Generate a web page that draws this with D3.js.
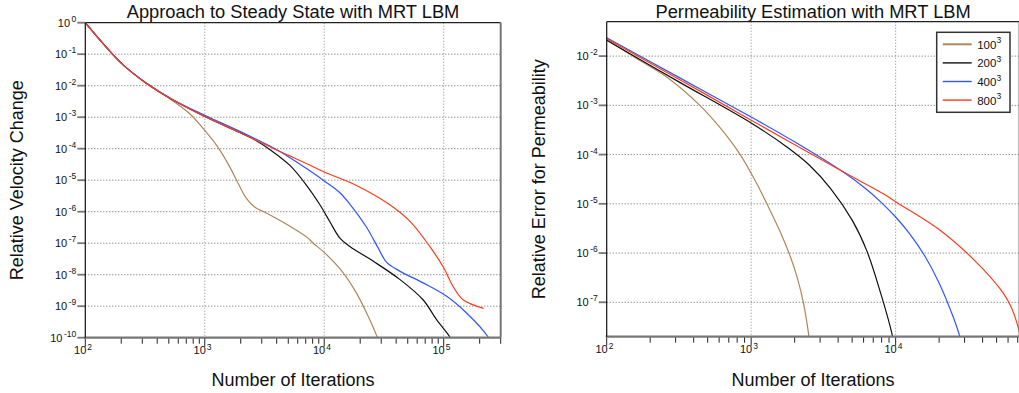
<!DOCTYPE html>
<html>
<head>
<meta charset="utf-8">
<script src="https://cdn.jsdelivr.net/npm/d3@7"></script>
<style>
	body { margin: 0; background: #fff; }
	svg { display: block; font-family: "Liberation Sans", Arial, Helvetica, sans-serif; }
</style>
</head>
<body>
<div id="chart"></div>
<script>
const seriesNames = ['100', '200', '400', '800'];
const seriesColors = ['#b0865a', '#111111', '#2f55ff', '#ff3a1a'];

// relative velocity change, [iterations, value]
const velocity100 = [[100, 1], [201, 5.1e-2], [326, 1.17e-2], [479, 4.5e-3], [748, 1.29e-3], [1000, 3.8e-4], [1288, 1.12e-4], [1622, 2.6e-5], [1905, 7.9e-6], [2239, 2.6e-6], [2630, 1.38e-6], [3311, 8.9e-7], [5130, 3.5e-7], [7080, 1.6e-7], [8090, 1.0e-7], [10000, 5.1e-8], [14420, 1.15e-8], [18620, 2.6e-9], [23330, 4.8e-10], [27730, 1.07e-10], [29500, 6e-11]];
const velocity200 = [[100, 1], [201, 5.1e-2], [326, 1.17e-2], [543, 3.5e-3], [1000, 1.05e-3], [1963, 3.25e-4], [2512, 2.1e-4], [3548, 9.1e-5], [5164, 2.95e-5], [7110, 6.9e-6], [9200, 1.66e-6], [11150, 4.8e-7], [13520, 1.45e-7], [16370, 7.9e-8], [25650, 2.7e-8], [42850, 7.1e-9], [67140, 1.6e-9], [86900, 3.8e-10], [112200, 1.07e-10], [120000, 6e-11]];
const velocity400 = [[100, 1], [201, 5.1e-2], [326, 1.19e-2], [543, 3.6e-3], [1000, 1.15e-3], [1963, 3.55e-4], [3740, 1.07e-4], [5164, 5.2e-5], [7110, 2.34e-5], [10000, 9.5e-6], [13520, 4.0e-6], [16370, 1.74e-6], [22600, 3.2e-7], [28250, 7.1e-8], [33200, 2.5e-8], [42850, 1.3e-8], [67140, 5.5e-9], [105200, 2.1e-9], [154500, 6.2e-10], [234400, 1.07e-10], [250000, 6e-11]];
const velocity800 = [[100, 1], [201, 5.1e-2], [326, 1.17e-2], [543, 3.5e-3], [1000, 1.05e-3], [1963, 3.25e-4], [3740, 1.02e-4], [5160, 5.9e-5], [7080, 3.4e-5], [10000, 1.82e-5], [18620, 6.8e-6], [35400, 1.66e-6], [52000, 5.0e-7], [76400, 7.9e-8], [100000, 1.66e-8], [119700, 4.3e-9], [145200, 1.6e-9], [215800, 8.5e-10]];

// relative error for permeability, [iterations, value]
const permeability100 = [[100, 2.15e-2], [158, 9.3e-3], [259, 3.8e-3], [441, 1.0e-3], [605, 3.6e-4], [839, 1.0e-4], [1081, 2.75e-5], [1285, 1.0e-5], [1585, 2.75e-6], [1866, 8.5e-7], [2089, 3.1e-7], [2307, 9.3e-8], [2500, 2.2e-8], [2570, 1.0e-8]];
const permeability200 = [[100, 2.09e-2], [316, 3.0e-3], [1000, 4.37e-4], [1778, 1.41e-4], [2512, 6.2e-5], [3548, 2.04e-5], [5012, 4.6e-6], [6310, 1.12e-6], [7943, 1.41e-7], [9484, 2.1e-8], [9800, 1.0e-8]];
const permeability400 = [[100, 2.36e-2], [316, 3.7e-3], [1000, 5.8e-4], [1995, 1.82e-4], [4266, 4.57e-5], [6310, 1.95e-5], [7943, 1.07e-5], [10000, 5.4e-6], [12590, 2.4e-6], [15850, 8.9e-7], [19950, 2.5e-7], [25120, 4.9e-8], [27540, 2.2e-8], [28840, 1.0e-8]];
const permeability800 = [[100, 2.25e-2], [316, 3.4e-3], [1000, 5.0e-4], [4266, 4.57e-5], [8280, 1.58e-5], [10000, 1.1e-5], [20510, 2.85e-6], [35000, 7.2e-7], [53580, 1.78e-7], [62950, 8.1e-8], [72950, 2.1e-8], [76000, 1.0e-8]];

const velocityXTicks = [1e2, 1e3, 1e4, 1e5];
const velocityYTicks = [1, 1e-1, 1e-2, 1e-3, 1e-4, 1e-5, 1e-6, 1e-7, 1e-8, 1e-9, 1e-10];
const permeabilityXTicks = [1e2, 1e3, 1e4];
const permeabilityYTicks = [1e-2, 1e-3, 1e-4, 1e-5, 1e-6, 1e-7];

const svg = d3.select('#chart')
	.append('svg')
	.attr('width', 1019)
	.attr('height', 393);

const _exponent = v => Math.round(Math.log10(v));

const _drawPanel = (options) =>{
	const {id, box, xDomain, yDomain, xTicks, yTicks, series, title, yLabel, yLabelX} = options;
	const x = d3.scaleLog().domain(xDomain).range([box.left, box.right]);
	const y = d3.scaleLog().domain(yDomain).range([box.bottom, box.top]);
	const g = svg.append('g');
	const cx = (box.left + box.right) / 2;

	g.append('clipPath')
		.attr('id', id)
		.append('rect')
		.attr('x', box.left)
		.attr('y', box.top)
		.attr('width', box.right - box.left)
		.attr('height', box.bottom - box.top);

	// dotted grid
	g.selectAll('.hgrid')
		.data(yTicks.filter(v => y(v) > box.top + 1 && y(v) < box.bottom - 1))
		.enter()
		.append('line')
		.attr('x1', box.left)
		.attr('x2', box.right)
		.attr('y1', d => y(d))
		.attr('y2', d => y(d))
		.attr('stroke', '#666')
		.attr('stroke-width', 1)
		.attr('stroke-dasharray', '1,2');

	g.selectAll('.vgrid')
		.data(xTicks.filter(v => x(v) > box.left + 1 && x(v) < box.right - 1))
		.enter()
		.append('line')
		.attr('x1', d => x(d))
		.attr('x2', d => x(d))
		.attr('y1', box.top)
		.attr('y2', box.bottom)
		.attr('stroke', '#888')
		.attr('stroke-width', 1)
		.attr('stroke-dasharray', '1,2');

	// curves
	const line = d3.line()
		.x(d => x(d[0]))
		.y(d => y(d[1]))
		.curve(d3.curveCatmullRom.alpha(0.5));

	g.append('g')
		.attr('clip-path', `url(#${id})`)
		.selectAll('path')
		.data(series)
		.enter()
		.append('path')
		.attr('d', line)
		.attr('fill', 'none')
		.attr('stroke', (d, i) => seriesColors[i])
		.attr('stroke-width', 1.2);

	// frame
	g.append('line')
		.attr('x1', box.left).attr('x2', box.right)
		.attr('y1', box.top).attr('y2', box.top)
		.attr('stroke', '#222').attr('stroke-width', 1.2);
	g.append('line')
		.attr('x1', box.right).attr('x2', box.right)
		.attr('y1', box.top).attr('y2', box.bottom)
		.attr('stroke', '#777').attr('stroke-width', 2);

	// x ticks, minor and major
	const minor = x.ticks().filter(v => v >= xDomain[0] && v <= xDomain[1]);
	g.selectAll('.xtick')
		.data(minor)
		.enter()
		.append('line')
		.attr('x1', d => x(d))
		.attr('x2', d => x(d))
		.attr('y1', box.bottom)
		.attr('y2', d => box.bottom + (Math.abs(Math.log10(d) - _exponent(d)) < 1e-6 ? 9 : 6))
		.attr('stroke', '#222')
		.attr('stroke-width', 1);

	g.append('line')
		.attr('x1', box.left - 1).attr('x2', box.right)
		.attr('y1', box.bottom).attr('y2', box.bottom)
		.attr('stroke', '#777').attr('stroke-width', 2.2);

	// y ticks
	g.selectAll('.ytick')
		.data(yTicks)
		.enter()
		.append('line')
		.attr('x1', box.left - 8)
		.attr('x2', box.left)
		.attr('y1', d => y(d))
		.attr('y2', d => y(d))
		.attr('stroke', '#777')
		.attr('stroke-width', 1.8);

	g.append('line')
		.attr('x1', box.left).attr('x2', box.left)
		.attr('y1', box.top).attr('y2', box.bottom)
		.attr('stroke', '#111').attr('stroke-width', 1.2);

	// tick labels
	const yLabels = g.selectAll('.ylab')
		.data(yTicks)
		.enter()
		.append('text')
		.attr('x', box.left - 9)
		.attr('y', d => y(d) + 4)
		.attr('text-anchor', 'end')
		.attr('font-size', 11)
		.attr('fill', '#111')
		.text('10');
	yLabels.append('tspan')
		.attr('dx', 1.5)
		.attr('dy', -5)
		.attr('font-size', 8.5)
		.text(d => _exponent(d));

	xTicks.forEach(v =>{
		g.append('text')
			.attr('x', x(v) + 1)
			.attr('y', box.bottom + 16)
			.attr('text-anchor', 'end')
			.attr('font-size', 11)
			.attr('fill', '#111')
			.text('10');
		g.append('text')
			.attr('x', x(v) + 2)
			.attr('y', box.bottom + 12)
			.attr('font-size', 8.5)
			.attr('fill', '#111')
			.text(_exponent(v));
	});

	// titles
	g.append('text')
		.attr('x', cx)
		.attr('y', 17.5)
		.attr('text-anchor', 'middle')
		.attr('font-size', 18.3)
		.attr('fill', '#111')
		.text(title);

	g.append('text')
		.attr('x', cx)
		.attr('y', 386)
		.attr('text-anchor', 'middle')
		.attr('font-size', 18)
		.attr('fill', '#111')
		.text('Number of Iterations');

	g.append('text')
		.attr('transform', `translate(${yLabelX}, ${(box.top + box.bottom) / 2}) rotate(-90)`)
		.attr('text-anchor', 'middle')
		.attr('font-size', 18)
		.attr('fill', '#111')
		.text(yLabel);
};

_drawPanel({
	id: 'clip-velocity',
	box: {left: 85.3, right: 500.7, top: 22.7, bottom: 337.7},
	xDomain: [1e2, 3e5],
	yDomain: [1e-10, 1],
	xTicks: velocityXTicks,
	yTicks: velocityYTicks,
	series: [velocity100, velocity200, velocity400, velocity800],
	title: 'Approach to Steady State with MRT LBM',
	yLabel: 'Relative Velocity Change',
	yLabelX: 23
});

_drawPanel({
	id: 'clip-permeability',
	box: {left: 606.7, right: 1019.5, top: 21.7, bottom: 336.7},
	xDomain: [1e2, 7.2e4],
	yDomain: [2e-8, 5e-2],
	xTicks: permeabilityXTicks,
	yTicks: permeabilityYTicks,
	series: [permeability100, permeability200, permeability400, permeability800],
	title: 'Permeability Estimation with MRT LBM',
	yLabel: 'Relative Error for Permeability',
	yLabelX: 545
});

// legend
const legend = svg.append('g')
	.attr('transform', 'translate(936.7, 32.3)');

legend.append('rect')
	.attr('width', 73.3)
	.attr('height', 80)
	.attr('fill', '#fff')
	.attr('stroke', '#333')
	.attr('stroke-width', 1.5);

const items = legend.selectAll('.item')
	.data(seriesNames)
	.enter()
	.append('g')
	.attr('transform', (d, i) => `translate(0, ${12 + i * 18.6})`);

items.append('line')
	.attr('x1', 6)
	.attr('x2', 35)
	.attr('stroke', (d, i) => seriesColors[i])
	.attr('stroke-width', (d, i) => i === 0 ? 2 : 1.4);

const labels = items.append('text')
	.attr('x', 40.5)
	.attr('y', 4.5)
	.attr('font-size', 11.5)
	.attr('fill', '#111')
	.text(d => d);
labels.append('tspan')
	.attr('dy', -5.5)
	.attr('font-size', 8.5)
	.text('3');
</script>
</body>
</html>
